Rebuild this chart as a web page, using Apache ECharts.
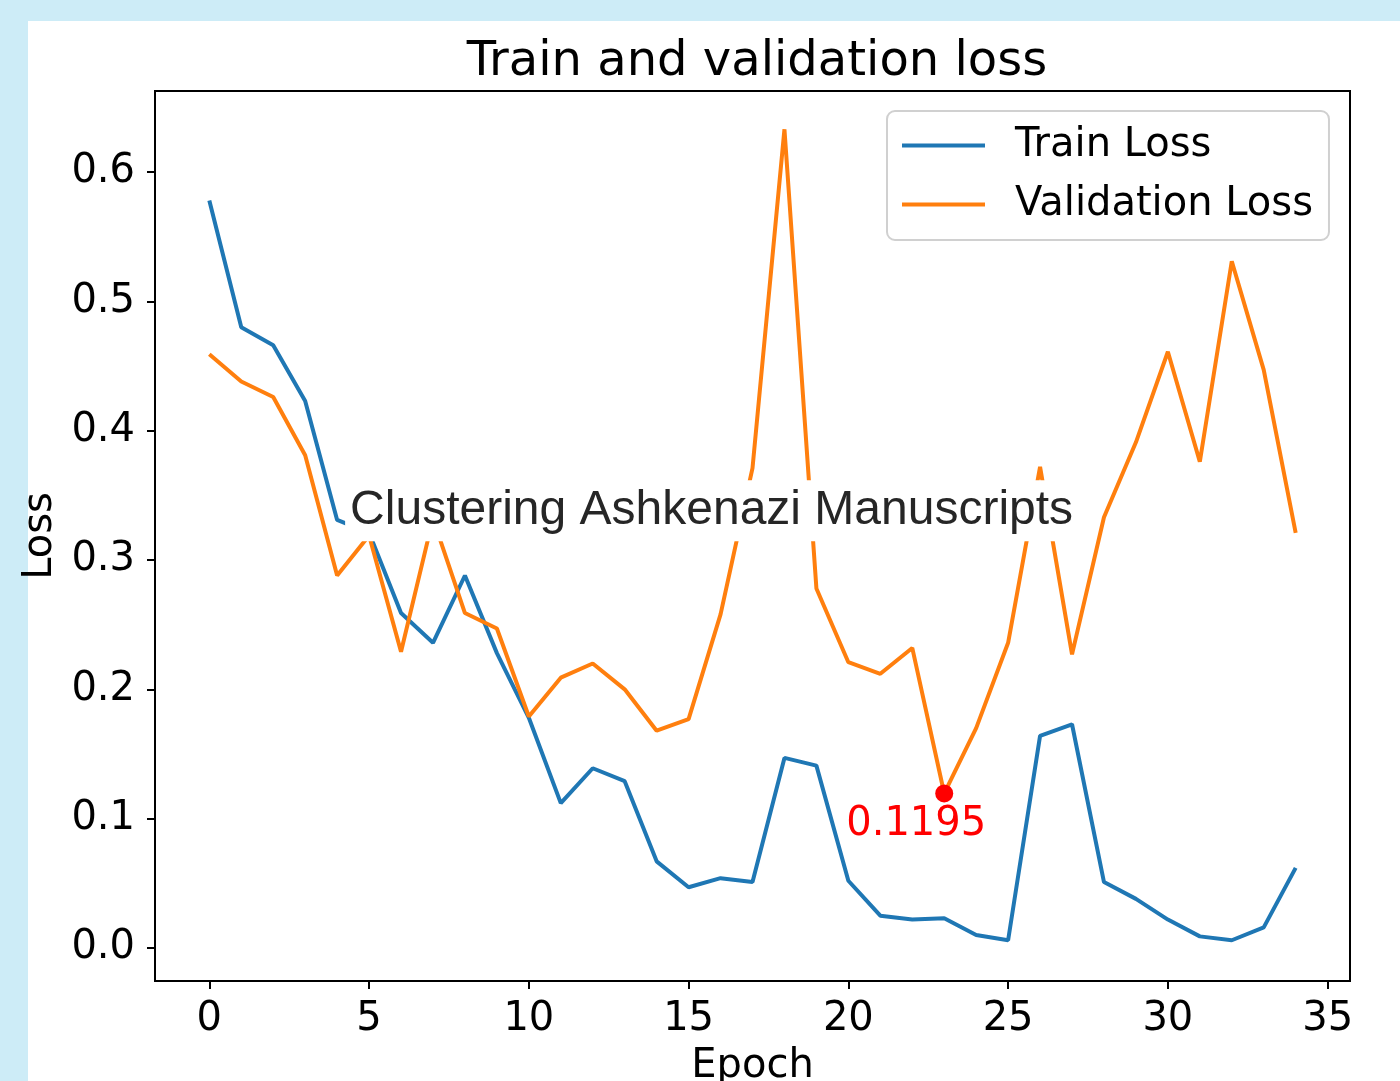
<!DOCTYPE html>
<html>
<head>
<meta charset="utf-8">
<script src="https://cdn.jsdelivr.net/npm/echarts@6/dist/echarts.min.js"></script>
<style>
  html, body { margin: 0; padding: 0; background: #cdecf7; }
  #main { width: 1400px; height: 1081px; }
</style>
</head>
<body>
<div id="main"></div>
<script>
  // epochs 0..34
  var epochs = [0, 1, 2, 3, 4, 5, 6, 7, 8, 9, 10, 11, 12, 13, 14, 15, 16, 17,
    18, 19, 20, 21, 22, 23, 24, 25, 26, 27, 28, 29, 30, 31, 32, 33, 34];
  var trainLoss = [0.578, 0.480, 0.466, 0.423, 0.331, 0.321, 0.259, 0.236, 0.288, 0.228,
    0.178, 0.112, 0.139, 0.129, 0.067, 0.047, 0.054, 0.051, 0.147, 0.141,
    0.052, 0.025, 0.022, 0.023, 0.010, 0.006, 0.164, 0.173, 0.051, 0.038,
    0.022, 0.009, 0.006, 0.016, 0.062];
  var valLoss = [0.459, 0.438, 0.426, 0.381, 0.288, 0.319, 0.229, 0.332, 0.259, 0.247,
    0.179, 0.209, 0.220, 0.200, 0.168, 0.177, 0.258, 0.371, 0.633, 0.278,
    0.221, 0.212, 0.232, 0.1195, 0.170, 0.236, 0.372, 0.227, 0.333, 0.391,
    0.461, 0.376, 0.531, 0.447, 0.321];
  var xTicks = [0, 5, 10, 15, 20, 25, 30, 35];
  var yTicks = [0, 0.1, 0.2, 0.3, 0.4, 0.5, 0.6];
  var bestPoint = [23, 0.1195];
  var noteText = 'Clustering Ashkenazi Manuscripts';
  var notePos = [4.25, 0.338];

  var myChart = echarts.init(document.getElementById('main'));

  var trainData = epochs.map(function(e, i) { return [e, trainLoss[i]]; });
  var valData = epochs.map(function(e, i) { return [e, valLoss[i]]; });

  var font = 'DejaVu Sans';

  var option = {
    backgroundColor: '#cdecf7',
    animation: false,
    graphic: [{
      type: 'rect',
      z: -10,
      shape: { x: 28, y: 21, width: 1372, height: 1060 },
      style: { fill: '#ffffff' }
    }],
    title: {
      text: 'Train and validation loss',
      left: 752,
      top: 34,
      textAlign: 'center',
      textStyle: { fontFamily: font, fontSize: 48, fontWeight: 'normal', color: '#000' }
    },
    legend: {
      orient: 'vertical',
      left: 887,
      top: 111,
      padding: [10, 16, 11, 15],
      itemGap: 10,
      itemWidth: 83,
      itemHeight: 4,
      icon: 'rect',
      backgroundColor: '#fff',
      borderColor: '#d0d0d0',
      borderWidth: 2,
      borderRadius: 8,
      data: ['Train Loss', 'Validation Loss'],
      textStyle: { fontFamily: font, fontSize: 40, lineHeight: 46, color: '#000', padding: [3, 0, 0, 25] }
    },
    grid: {
      left: 155, top: 91, right: 50, bottom: 100,
      outerBoundsMode: 'none',
      show: true, borderColor: '#000', borderWidth: 2, backgroundColor: '#fff'
    },
    xAxis: {
      type: 'value',
      min: -1.7,
      max: 35.7,
      name: 'Epoch',
      nameLocation: 'middle',
      nameGap: 66,
      nameTextStyle: { fontFamily: font, fontSize: 40, color: '#000' },
      axisLine: { show: true, onZero: false, lineStyle: { color: '#000', width: 2 } },
      axisTick: { show: true, length: 8, customValues: xTicks, lineStyle: { color: '#000', width: 2 } },
      axisLabel: { customValues: xTicks, margin: 19, fontFamily: font, fontSize: 40, color: '#000' },
      splitLine: { show: false }
    },
    yAxis: {
      type: 'value',
      min: -0.0255,
      max: 0.6626,
      name: 'Loss',
      nameLocation: 'middle',
      nameGap: 80,
      nameTextStyle: { fontFamily: font, fontSize: 40, color: '#000' },
      axisLine: { show: true, onZero: false, lineStyle: { color: '#000', width: 2 } },
      axisTick: { show: true, length: 8, customValues: yTicks, lineStyle: { color: '#000', width: 2 } },
      axisLabel: {
        customValues: yTicks, margin: 20, fontFamily: font, fontSize: 40, color: '#000',
        formatter: function(v) { return v.toFixed(1); }
      },
      splitLine: { show: false }
    },
    series: [{
      name: 'Train Loss',
      type: 'line',
      data: trainData,
      symbol: 'none',
      color: '#1f77b4',
      lineStyle: { width: 4, color: '#1f77b4' },
      z: 2
    }, {
      name: 'Validation Loss',
      type: 'line',
      data: valData,
      symbol: 'none',
      color: '#ff7f0e',
      lineStyle: { width: 4, color: '#ff7f0e' },
      z: 3
    }, {
      // best validation point
      type: 'scatter',
      data: [bestPoint],
      symbolSize: 18,
      itemStyle: { color: '#ff0000', opacity: 1 },
      z: 5,
      label: {
        show: true,
        position: 'bottom',
        distance: 0,
        offset: [-28, 2],
        formatter: function(p) { return p.value[1].toFixed(4); },
        fontFamily: font, fontSize: 40, color: '#ff0000'
      }
    }, {
      // text annotation with white box
      type: 'scatter',
      data: [notePos],
      symbolSize: 0,
      silent: true,
      itemStyle: { opacity: 1 },
      z: 10,
      label: {
        show: true,
        position: 'right',
        distance: 0,
        formatter: noteText,
        fontFamily: 'Liberation Sans',
        fontSize: 48,
        lineHeight: 55,
        color: '#262626',
        backgroundColor: '#ffffff',
        padding: [3, 6, 3, 5]
      }
    }]
  };

  myChart.setOption(option);
</script>
</body>
</html>
